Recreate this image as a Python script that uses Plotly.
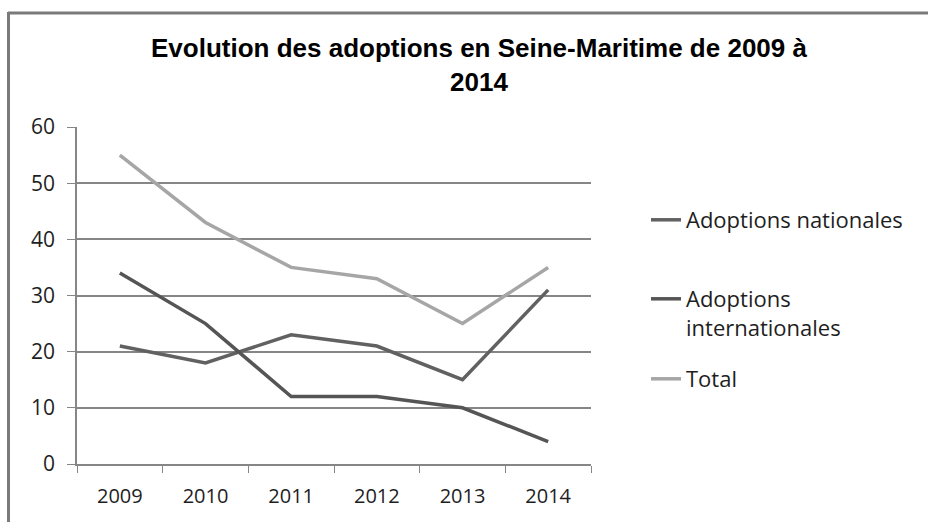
import plotly.graph_objects as go

years = ["2009", "2010", "2011", "2012", "2013", "2014"]
nationales = [21, 18, 23, 21, 15, 31]
internationales = [34, 25, 12, 12, 10, 4]
total = [55, 43, 35, 33, 25, 35]

series_names = ["Adoptions nationales", "Adoptions<br>internationales", "Total"]
series_colors = ["#616161", "#555555", "#a6a6a6"]
legend_ids = ["legend", "legend2", "legend3"]
legend_tops = [199, 278, 358]  # pixel top of each legend entry

W, H = 928, 522
L, R, T, B = 77, 591, 127, 464
pw, ph = R - L, B - T

FONT = "Open Sans, Calibri, sans-serif"
TXT = "#1e1e1e"


def px_x(x):
    return (x - L) / pw


def px_y(y):
    return (B - y) / ph


fig = go.Figure()
for name, vals, col, lid in zip(series_names, [nationales, internationales, total], series_colors, legend_ids):
    fig.add_trace(go.Scatter(
        x=years, y=vals, mode="lines", name=name,
        line=dict(color=col, width=3.5),
        legend=lid,
    ))

legend_common = dict(
    xanchor="left", yanchor="top", valign="top",
    font=dict(family=FONT, size=22, color=TXT),
    bgcolor="rgba(0,0,0,0)", borderwidth=0,
)

fig.update_layout(
    width=W, height=H,
    margin=dict(l=L, r=W - R, t=T, b=H - B),
    paper_bgcolor="white", plot_bgcolor="white",
    font=dict(family=FONT, size=20, color=TXT),
    title=dict(
        text="<b>Evolution des adoptions en Seine-Maritime de 2009 à<br>2014</b>",
        x=479 / W, xref="container", xanchor="center",
        y=1 - 57 / H, yref="container", yanchor="top",
        font=dict(family="Liberation Sans, Arial, sans-serif", size=26, color="#000000"),
    ),
    showlegend=True,
    legend=dict(x=px_x(646), y=px_y(legend_tops[0]), **legend_common),
    legend2=dict(x=px_x(646), y=px_y(legend_tops[1]), **legend_common),
    legend3=dict(x=px_x(646), y=px_y(legend_tops[2]), **legend_common),
    xaxis=dict(
        type="category", range=[-0.5, 5.5], tickson="boundaries",
        ticks="outside", ticklen=7, tickcolor="#868686",
        showline=True, linecolor="#868686", linewidth=1.5,
        showgrid=False, zeroline=False, ticklabelstandoff=13,
        tickfont=dict(family=FONT, size=20, color=TXT),
    ),
    yaxis=dict(
        range=[0, 60], dtick=10, ticks="outside", ticklen=8, tickcolor="#868686",
        showline=True, linecolor="#868686", linewidth=1.5,
        showgrid=True, gridcolor="#868686", gridwidth=1.5,
        zeroline=False, ticklabelstandoff=8,
        tickfont=dict(family=FONT, size=21, color=TXT),
    ),
    shapes=[
        dict(type="line", xref="paper", yref="paper",
             x0=px_x(8), x1=px_x(928), y0=px_y(13), y1=px_y(13),
             line=dict(color="#7a7a7a", width=3)),
        dict(type="line", xref="paper", yref="paper",
             x0=px_x(8.5), x1=px_x(8.5), y0=px_y(12), y1=px_y(522),
             line=dict(color="#7a7a7a", width=3)),
    ],
)

fig.write_html(
    "out.html",
    config={"displayModeBar": False},
    post_script="document.body.style.margin='0';document.body.style.overflow='hidden';",
)
